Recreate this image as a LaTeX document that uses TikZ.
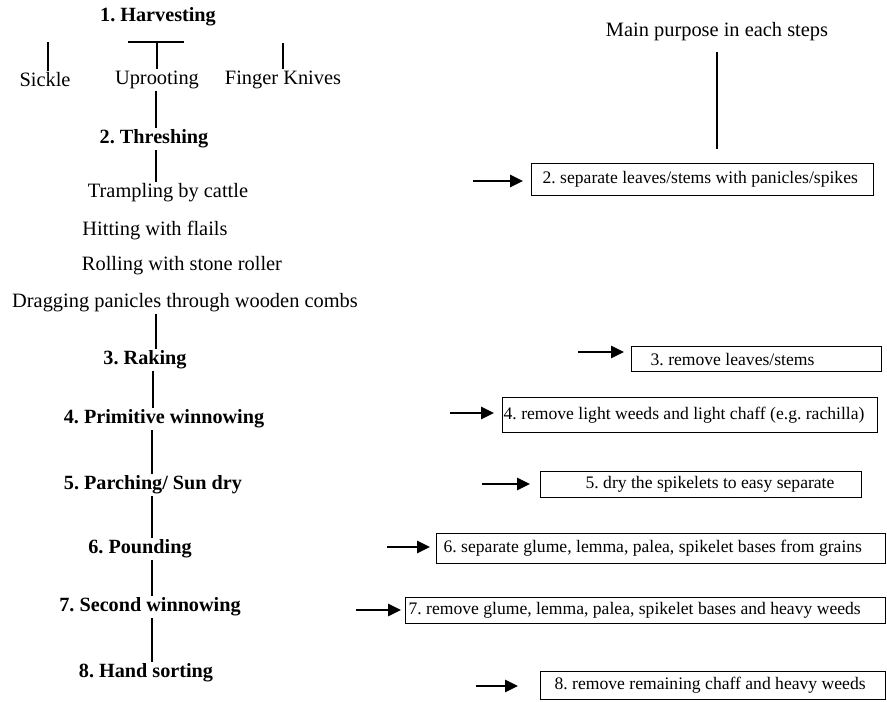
\documentclass[tikz,border=0pt]{standalone}
\usepackage{fontspec}
\setmainfont{Liberation Serif}
\usetikzlibrary{arrows.meta}
\begin{document}
\frenchspacing
\begin{tikzpicture}[x=1pt,y=-1pt,
  txt/.style={font=\fontsize{20.4}{24}\selectfont, inner sep=2pt},
  head/.style={font=\fontsize{20.2}{24}\selectfont\bfseries, inner sep=2pt},
  box/.style={draw, line width=1.3pt, font=\fontsize{17.6}{20}\selectfont, inner sep=0pt, anchor=north west},
  vline/.style={line width=2.6pt},
  arr/.style={line width=2.6pt, -{Triangle[length=13pt,width=12pt]}}]
\useasboundingbox (0,0) rectangle (887,702);

% left column
\node[head] (h1) at (158,17) {1. Harvesting};
\coordinate (hl) at (128,42);
\coordinate (hr) at (184,42);
\coordinate (hm) at (157,42);
\coordinate (sk) at (48,42);
\coordinate (fk) at (283,43);
\node[txt] (sickle) at (45,80) {Sickle};
\node[txt] (uproot) at (157,80) {Uprooting};
\node[txt] (finger) at (283,80) {Finger Knives};
\draw[vline] (hl) -- (hr);
\draw[vline] (hm) -- (hm |- uproot.north);
\draw[vline] (sk) -- (sk |- sickle.north);
\draw[vline] (fk) -- (fk |- finger.north);

\node[head] (h2) at (154,139) {2. Threshing};
\coordinate (ax1) at (156,0);
\draw[vline] (uproot.south -| ax1) -- (h2.north -| ax1);
\node[txt] (t1) at (168,193) {Trampling by cattle};
\draw[vline] (h2.south -| ax1) -- (t1.north -| ax1);
\node[txt] (t2) at (155,231) {Hitting with flails};
\node[txt] (t3) at (182,266) {Rolling with stone roller};
\node[txt] (t4) at (185,303) {Dragging panicles through wooden combs};

\node[head] (h3) at (145,360) {3. Raking};
\draw[vline] (t4.south -| ax1) -- (h3.north -| ax1);
\coordinate (ax2) at (153,0);
\node[head] (h4) at (164,419) {4. Primitive winnowing};
\draw[vline] (h3.south -| ax2) -- (h4.north -| ax2);
\coordinate (ax3) at (152,0);
\node[head] (h5) at (153,485) {5. Parching/ Sun dry};
\draw[vline] (h4.south -| ax3) -- (h5.north -| ax3);
\node[head] (h6) at (140,549) {6. Pounding};
\draw[vline] (h5.south -| ax3) -- (h6.north -| ax3);
\node[head] (h7) at (150,607) {7. Second winnowing};
\draw[vline] (h6.south -| ax3) -- (h7.north -| ax3);
\node[head] (h8) at (146,673) {8. Hand sorting};
\draw[vline] (h7.south -| ax3) -- (h8.north -| ax3);

% right column
\node[txt] (mp) at (717,32) {Main purpose in each steps};
\node[box, minimum width=342pt, minimum height=32pt] (b2) at (531,163)
  {\makebox[342pt][l]{\hspace*{11pt}2. separate leaves/stems with panicles/spikes}};
\coordinate (ax4) at (717,0);
\draw[vline] (mp.south -| ax4) ++(0,9) -- ([yshift=14pt]b2.north -| ax4);

\node[box, minimum width=250pt, minimum height=25pt] (b3) at (631,346)
  {\makebox[250pt][l]{\hspace*{19pt}3. remove leaves/stems}};
\node[box, minimum width=375pt, minimum height=35pt] (b4) at (502,397)
  {\makebox[375pt][l]{\hspace*{1pt}4. remove light weeds and light chaff (e.g. rachilla)}};
\node[box, minimum width=321pt, minimum height=26pt] (b5) at (540,471)
  {\makebox[321pt][l]{\hspace*{45pt}5. dry the spikelets to easy separate}};
\node[box, minimum width=449pt, minimum height=30pt] (b6) at (436,533)
  {\makebox[449pt][l]{\hspace*{7pt}6. separate glume, lemma, palea, spikelet bases from grains}};
\node[box, minimum width=480pt, minimum height=26pt] (b7) at (405,597)
  {\makebox[480pt][l]{\hspace*{3pt}7. remove glume, lemma, palea, spikelet bases and heavy weeds}};
\node[box, minimum width=345pt, minimum height=28pt] (b8) at (540,671)
  {\makebox[345pt][l]{\hspace*{14pt}8. remove remaining chaff and heavy weeds}};

\coordinate (a2) at (473,181);
\coordinate (a3) at (578,352);
\coordinate (a4) at (450,413);
\coordinate (a5) at (482,484);
\coordinate (a6) at (387,547);
\coordinate (a7) at (356,610);
\coordinate (a8) at (476,686);
\draw[arr] (a2) -- ([xshift=-8pt]b2.west |- a2);
\draw[arr] (a3) -- ([xshift=-7pt]b3.west |- a3);
\draw[arr] (a4) -- ([xshift=-8pt]b4.west |- a4);
\draw[arr] (a5) -- ([xshift=-10pt]b5.west |- a5);
\draw[arr] (a6) -- ([xshift=-6pt]b6.west |- a6);
\draw[arr] (a7) -- ([xshift=-4pt]b7.west |- a7);
\draw[arr] (a8) -- ([xshift=-22pt]b8.west |- a8);
\end{tikzpicture}
\end{document}
